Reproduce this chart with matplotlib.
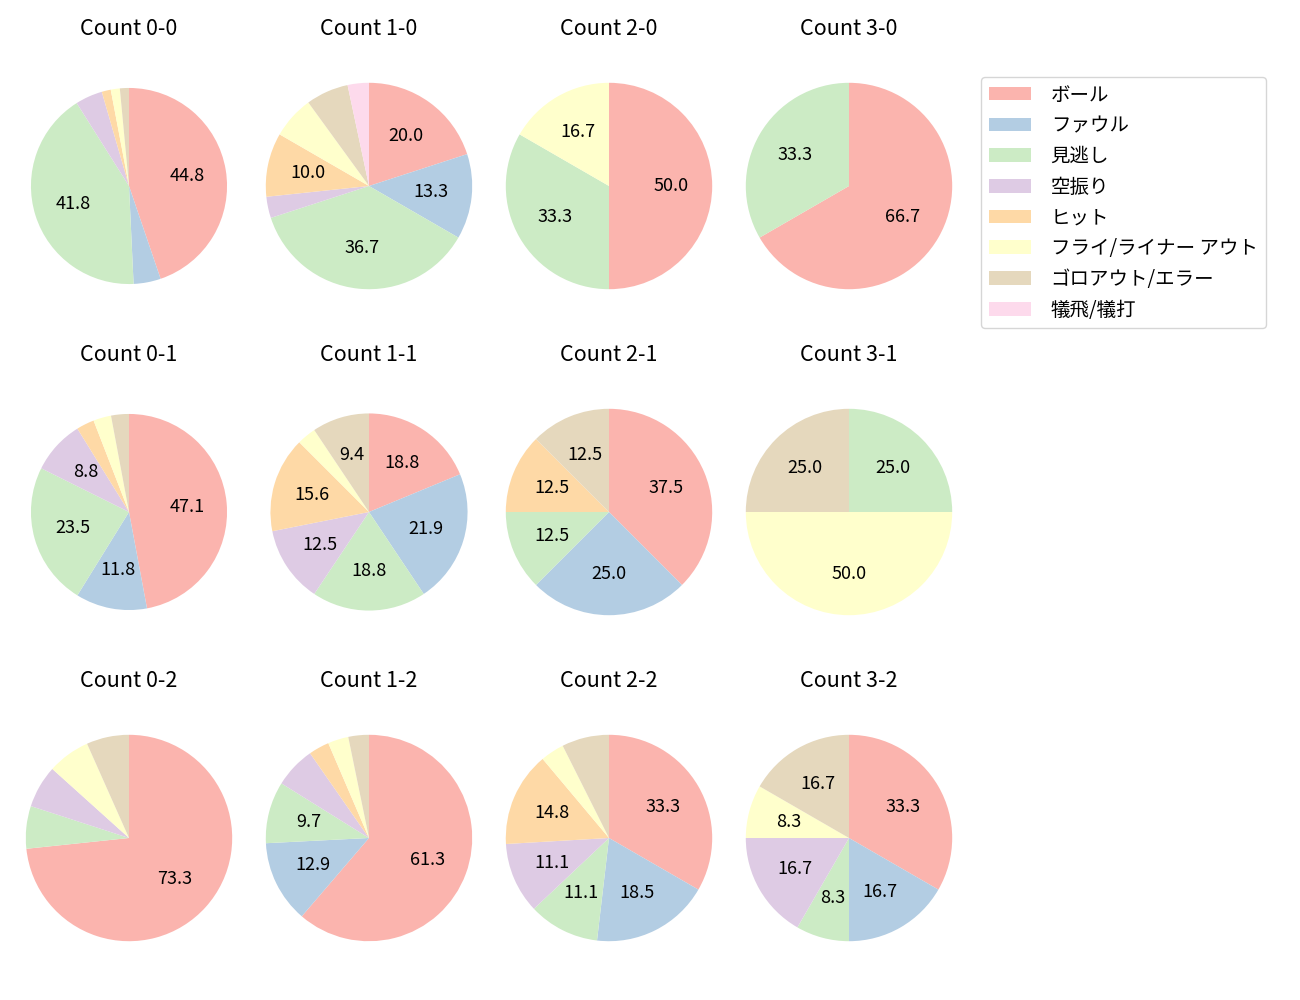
"""
Pie charts of pitch results for each ball-strike count.
"""
import matplotlib
matplotlib.use('Agg')
import matplotlib.pyplot as plt
from matplotlib.patches import Patch

plt.rcParams['font.family'] = ['Noto Sans CJK JP', 'DejaVu Sans']

results = ['ボール', 'ファウル', '見逃し', '空振り', 'ヒット',
           'フライ/ライナー アウト', 'ゴロアウト/エラー', '犠飛/犠打']
colors = ['#fbb4ae', '#b3cde3', '#ccebc5', '#decbe4',
          '#fed9a6', '#ffffcc', '#e5d8bd', '#fddaec']

# pitch counts per result, key = balls-strikes
counts = {
    '0-0': [30, 3, 28, 3, 1, 1, 1, 0],
    '1-0': [6, 4, 11, 1, 3, 2, 2, 1],
    '2-0': [3, 0, 2, 0, 0, 1, 0, 0],
    '3-0': [2, 0, 1, 0, 0, 0, 0, 0],
    '0-1': [16, 4, 8, 3, 1, 1, 1, 0],
    '1-1': [6, 7, 6, 4, 5, 1, 3, 0],
    '2-1': [3, 2, 1, 0, 1, 0, 1, 0],
    '3-1': [0, 0, 1, 0, 0, 2, 1, 0],
    '0-2': [11, 0, 1, 1, 0, 1, 1, 0],
    '1-2': [19, 4, 3, 2, 1, 1, 1, 0],
    '2-2': [9, 5, 3, 3, 4, 1, 2, 0],
    '3-2': [4, 2, 1, 2, 0, 1, 2, 0],
}

# a few pies come out slightly smaller in the original
radius = {'0-0': 0.95, '0-1': 0.95, '1-1': 0.955}

fig = plt.figure(figsize=(13, 10), dpi=100)

W, H = 1300.0, 1000.0
aw, ah = 258.0, 284.0
for s in range(3):
    for b in range(4):
        key = '%d-%d' % (b, s)
        cx = 129 + 240 * b
        cy = 186 + 326 * s
        ax = fig.add_axes([(cx - aw / 2) / W, 1 - (cy + ah / 2) / H, aw / W, ah / H])
        vals = counts[key]
        ax.pie(vals, colors=colors, startangle=90, counterclock=False,
               radius=radius.get(key, 1.0),
               autopct=lambda p: '%.1f' % p if p >= 8 else '',
               textprops={'fontsize': 13})
        ax.set_xlim(-1.25, 1.25)
        ax.set_ylim(-1.25, 1.25)
        ax.set_aspect('equal')
        ax.set_title('Count ' + key, fontsize=15.5, pad=16)

handles = [Patch(facecolor=c) for c in colors]
fig.legend(handles, results, loc='upper left', bbox_to_anchor=(971 / W, 1 - 67 / H),
           fontsize=14, handlelength=2.2, handletextpad=1.0, labelspacing=0.5)

plt.savefig('out.png')
